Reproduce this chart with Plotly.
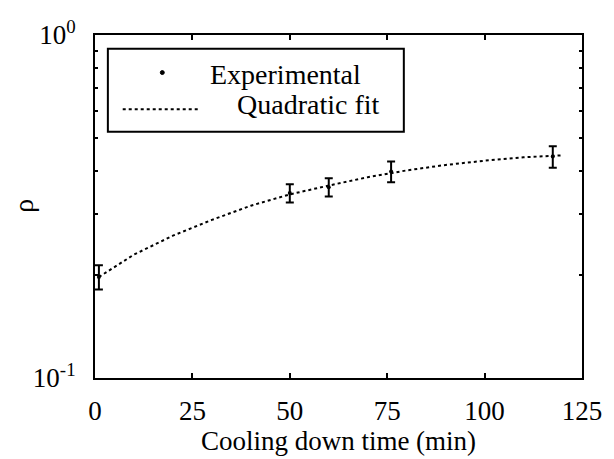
import plotly.graph_objects as go

t_exp = [1, 50, 60, 76, 117.5]
rho_exp = [0.197, 0.346, 0.360, 0.400, 0.442]
rho_err = [0.016, 0.021, 0.022, 0.028, 0.032]

# Quadratic fit curve
t_fit = [1, 10, 20, 30, 40, 50, 60, 70, 80, 90, 100, 110, 120]
rho_fit = [0.197, 0.229, 0.260, 0.289, 0.318, 0.343, 0.364, 0.385, 0.403, 0.418, 0.430, 0.440, 0.446]

x_ticks = [0, 25, 50, 75, 100, 125]
y_major = [0.1, 1]
y_major_text = ["10<sup>-1</sup>", "10<sup>0</sup>"]
y_minor = [0.2, 0.3, 0.4, 0.5, 0.6, 0.7, 0.8, 0.9]

legend_labels = ["Experimental", "Quadratic fit"]

FONT = "Liberation Serif, Times New Roman, serif"
FS = 27
TF = dict(family=FONT, size=FS, color="black")
LF = dict(family=FONT, size=28, color="black")

fig = go.Figure()
fig.add_trace(go.Scatter(
    x=t_fit, y=rho_fit, mode="lines",
    line=dict(color="black", width=2, dash="dot"),
    showlegend=False, hoverinfo="skip"))
fig.add_trace(go.Scatter(
    x=t_exp, y=rho_exp, mode="markers",
    marker=dict(color="black", size=4),
    error_y=dict(type="data", array=rho_err, color="black", thickness=2, width=4),
    showlegend=False))

L, R, T, B = 95, 27, 35, 77
W, H = 614, 459
pw, ph = W - L - R, H - T - B

def px(x):
    return (x - L) / pw

def py(y):
    return 1 - (y - T) / ph

shapes = [
    dict(type="rect", xref="paper", yref="paper",
         x0=px(108), x1=px(407), y0=py(133), y1=py(49),
         line=dict(color="black", width=2), fillcolor="white", layer="above"),
    dict(type="circle", xref="paper", yref="paper",
         x0=px(161), x1=px(165), y0=py(75), y1=py(71),
         line=dict(color="black", width=1), fillcolor="black", layer="above"),
    dict(type="line", xref="paper", yref="paper",
         x0=px(123), x1=px(200), y0=py(110), y1=py(110),
         line=dict(color="black", width=2, dash="dot"), layer="above"),
]

annotations = [
    dict(text=legend_labels[0], xref="paper", yref="paper", x=px(209), y=py(75),
         xanchor="left", yanchor="middle", showarrow=False, font=LF),
    dict(text=legend_labels[1], xref="paper", yref="paper", x=px(236), y=py(105),
         xanchor="left", yanchor="middle", showarrow=False, font=LF),
    dict(text="ρ", xref="paper", yref="paper", x=px(22), y=py(208),
         xanchor="center", yanchor="middle", showarrow=False, textangle=-90, font=LF),
]

fig.update_layout(
    width=W, height=H,
    margin=dict(l=L, r=R, t=T, b=B),
    paper_bgcolor="white", plot_bgcolor="white",
    font=TF,
    shapes=shapes, annotations=annotations,
)
fig.update_xaxes(
    range=[0, 125], tickvals=x_ticks, ticks="inside", ticklen=5, tickwidth=1.5,
    tickcolor="black", showline=True, linecolor="black", linewidth=2, mirror="ticks",
    showgrid=False, zeroline=False, ticklabelstandoff=8, tickfont=TF,
    title=dict(text="Cooling down time (min)", font=TF, standoff=2),
)
fig.update_yaxes(
    type="log", range=[-1, 0], tickvals=y_major, ticktext=y_major_text,
    ticks="inside", ticklen=5, tickwidth=1.5, tickcolor="black", tickfont=TF,
    minor=dict(tickvals=y_minor, ticks="inside", ticklen=3, tickcolor="black", tickwidth=1.5),
    showline=True, linecolor="black", linewidth=2, mirror="ticks",
    showgrid=False, zeroline=False, ticklabelstandoff=12,
)

fig.write_html("out.html")
